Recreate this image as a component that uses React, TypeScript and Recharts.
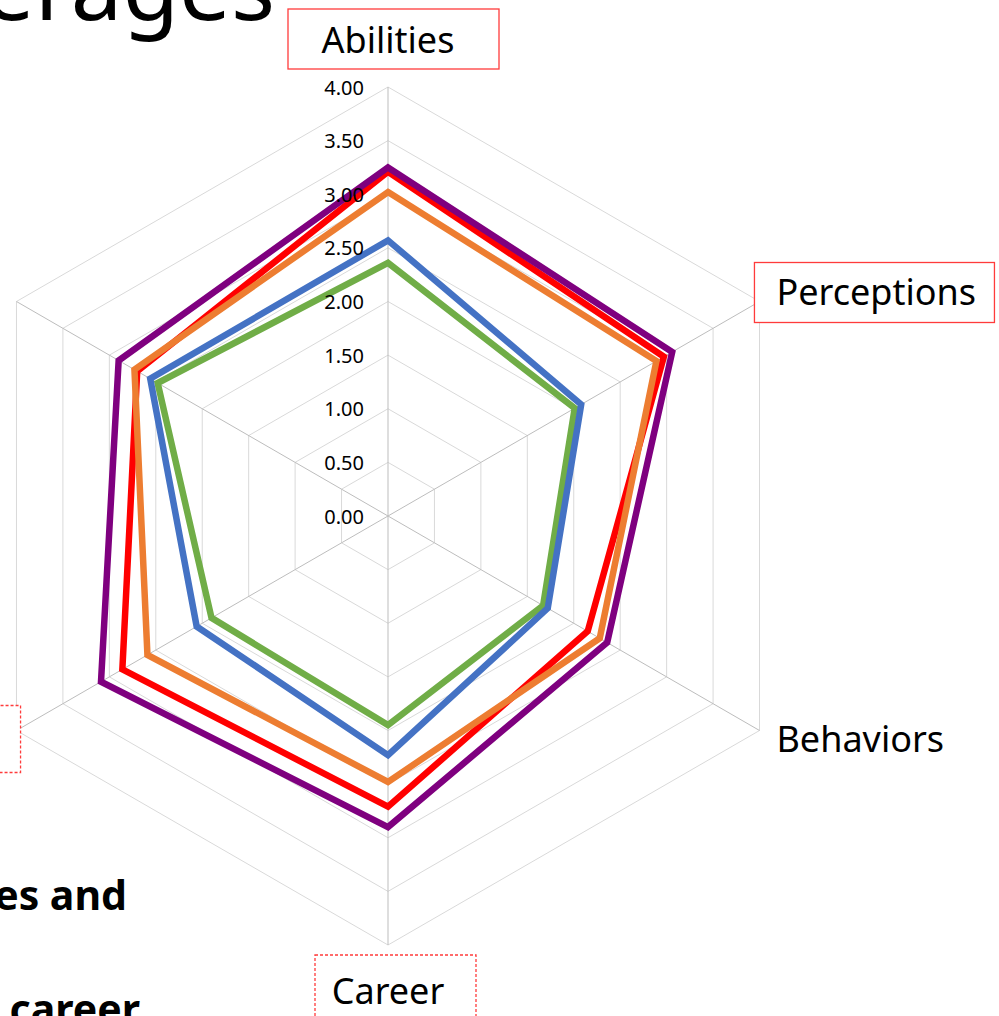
import { RadarChart, Radar, PolarGrid, PolarAngleAxis, PolarRadiusAxis } from "recharts";

// axis order runs clockwise from the top
const dimensions = ["Abilities", "Perceptions", "Behaviors", "Career", "Attitudes", "Knowledge"];

const purpleValues = [3.25, 3.06, 2.36, 2.9, 3.09, 2.9];
const redValues = [3.21, 2.97, 2.15, 2.71, 2.86, 2.7];
const orangeValues = [3.02, 2.89, 2.28, 2.48, 2.59, 2.73];
const blueValues = [2.57, 2.08, 1.72, 2.23, 2.06, 2.56];
const greenValues = [2.36, 2.01, 1.67, 1.95, 1.9, 2.48];

const radiusDomain = [0, 4];
const radiusTicks = [0, 0.5, 1, 1.5, 2, 2.5, 3, 3.5, 4];

const data = dimensions.map((name, i) => ({
  name,
  green: greenValues[i],
  blue: blueValues[i],
  red: redValues[i],
  orange: orangeValues[i],
  purple: purpleValues[i],
}));

const series = [
  { key: "green", color: "#70ad47" },
  { key: "blue", color: "#4472c4" },
  { key: "red", color: "#ff0000" },
  { key: "orange", color: "#ed7d31" },
  { key: "purple", color: "#7f007f" },
];

// label boxes drawn on the slide around some category names
const labelBoxes: Record<string, { dash?: string; w: number; h: number; dx: number; dy: number }> = {
  Abilities: { w: 211, h: 60, dx: -100, dy: -30 },
  Perceptions: { w: 240, h: 60, dx: -22, dy: -29 },
  Career: { dash: "3 2", w: 161, h: 72, dx: -73, dy: -35 },
  Attitudes: { dash: "3 2", w: 200, h: 67, dx: -175, dy: -33 },
};

const FONT = "'Noto Sans', 'Open Sans', sans-serif";

function AngleTick(props: any) {
  const { x, y, payload, textAnchor } = props;
  const name = payload.value as string;
  let tx = x;
  let ty = y;
  if (textAnchor === "middle") {
    ty = y < 516 ? y - 40 : y + 37;
  } else if (textAnchor === "start") {
    tx = x + 10;
    ty = y < 516 ? y - 6 : y + 4;
  } else {
    tx = x - 14;
    ty = y < 516 ? y - 6 : y + 4;
  }
  const box = labelBoxes[name];
  return (
    <g>
      {box && (
        <rect
          x={tx + box.dx}
          y={ty + box.dy}
          width={box.w}
          height={box.h}
          fill="#fff"
          stroke="#ff3b3b"
          strokeWidth={1.3}
          strokeDasharray={box.dash}
        />
      )}
      <text
        x={tx}
        y={ty}
        textAnchor={textAnchor}
        dominantBaseline="central"
        fontSize={36}
        fontFamily={FONT}
        fill="#000"
      >
        {name}
      </text>
    </g>
  );
}

function RadiusTick(props: any) {
  const { x, y, payload } = props;
  return (
    <text x={x - 24} y={y} textAnchor="end" dominantBaseline="central" fontSize={20} fontFamily={FONT} fill="#000">
      {Number(payload.value).toFixed(2)}
    </text>
  );
}

export default function App() {
  return (
    <div style={{ position: "absolute", left: 0, top: 0, width: 999, height: 1016, overflow: "hidden", background: "#fff" }}>
      <RadarChart
        width={999}
        height={1016}
        data={data}
        cx={388}
        cy={516}
        outerRadius={429}
        margin={{ top: 0, right: 0, bottom: 0, left: 0 }}
      >
        <PolarGrid gridType="polygon" stroke="#d9d9d9" radialLines={false} />
        <PolarGrid gridType="polygon" stroke="#bdbdbd" polarRadius={[]} />
        <PolarAngleAxis dataKey="name" tick={AngleTick} tickLine={false} axisLine={false} />
        <PolarRadiusAxis
          angle={90}
          type="number"
          domain={radiusDomain}
          ticks={radiusTicks as any}
          tickCount={9}
          tick={RadiusTick}
          axisLine={false}
          tickLine={false}
        />
        {series.map((s) => (
          <Radar
            key={s.key}
            dataKey={s.key}
            stroke={s.color}
            strokeWidth={6.5}
            fill="none"
            fillOpacity={0}
            dot={false}
            isAnimationActive={false}
          />
        ))}
      </RadarChart>
      <svg
        width={999}
        height={1016}
        style={{ position: "absolute", left: 0, top: 0, pointerEvents: "none" }}
      >
        <text x={275} y={20} textAnchor="end" fontSize={92} fontFamily={FONT} fill="#000">
          Averages
        </text>
        <text x={127} y={910} textAnchor="end" fontSize={41} fontWeight="bold" fontFamily={FONT} fill="#000">
          Attitudes and
        </text>
        <text x={140} y={1024} textAnchor="end" fontSize={41} fontWeight="bold" fontFamily={FONT} fill="#000">
          career
        </text>
      </svg>
    </div>
  );
}
